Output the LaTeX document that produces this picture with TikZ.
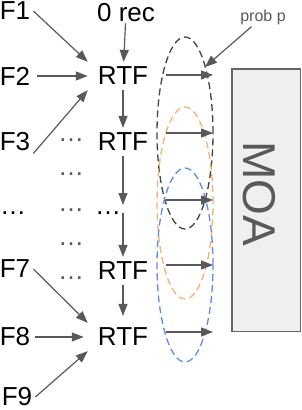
\documentclass[tikz,border=0pt]{standalone}
\usepackage{fontspec}
\setmainfont{Liberation Sans}
\usepackage{xcolor}
\usepackage{tikz}
\usetikzlibrary{arrows.meta,positioning}
\definecolor{arrowgray}{HTML}{595959}
\definecolor{ringdark}{HTML}{434343}
\definecolor{ringorange}{HTML}{F6B26B}
\definecolor{ringblue}{HTML}{5B8DEF}
\definecolor{boxfill}{HTML}{EFEFEF}
\definecolor{boxline}{HTML}{666666}

\begin{document}
\begin{tikzpicture}[x=1pt,y=-1pt,
    lbl/.style={font=\fontsize{26}{30}\selectfont,inner xsep=3pt,inner ysep=2pt},
    rtfbox/.style={lbl,inner xsep=10pt,inner ysep=5pt},
    gapdots/.style={font=\fontsize{26}{30}\selectfont,inner sep=0pt,anchor=base},
    flow/.style={-{Triangle[length=12pt,width=9pt]},arrowgray,line width=1.2pt},
    ring/.style={dash pattern=on 7pt off 4pt,line width=1.3pt}]
      \useasboundingbox (0,0) rectangle (302,410);
      % feature labels on the left
      \node[lbl] (f1) at (15,11) {F1};
      \node[lbl] (f2) at (15,76) {F2};
      \node[lbl] (f3) at (15,142) {F3};
      \node[gapdots] (ldots) at (13,214) {…};
      \node[lbl] (f7) at (15,269) {F7};
      \node[lbl] (f8) at (15,337) {F8};
      \node[lbl] (f9) at (17,397) {F9};
      % chain of trees
      \node[lbl,inner ysep=1pt] (rec) at (126,13) {0 rec};
      \node[rtfbox] (rtf1) at (123,76) {RTF};
      \node[rtfbox] (rtf2) at (123,142) {RTF};
      \node[gapdots] (rdots) at (108,214) {…};
      \node[rtfbox] (rtf3) at (123,271) {RTF};
      \node[rtfbox] (rtf4) at (123,337) {RTF};
      \coordinate (gapin) at (123,205);
      \coordinate (gapout) at (123,213);
      \foreach \y [count=\i] in {141,175,211,245,279}
        \node[gapdots,text=arrowgray] (mdots\i) at (71,\y) {…};
      % MOA box
      \node[draw=boxline,fill=boxfill,line width=1.5pt,minimum width=68.5pt,minimum height=262.5pt,inner sep=0pt] (moa) at (266,200) {};
      \node[rotate=-90,font=\fontsize{46}{50}\selectfont,text=arrowgray,inner sep=0pt] (moalabel) at (259,194) {MOA};
      % sampling rings
      \draw[ring,ringdark] (185,133) ellipse (28pt and 96pt);
      \draw[ring,ringorange] (185,203) ellipse (28pt and 96pt);
      \draw[ring,ringblue] (185,265) ellipse (28pt and 97pt);
      % inputs
      \draw[flow] (f1.east) -- (rtf1.north west);
      \draw[flow,shorten <=4pt] (f2) -- (rtf1);
      \draw[flow] (f3.south east) -- (rtf1.south west);
      \draw[flow] (rec) -- (rtf1);
      \draw[flow] (rtf1) -- (rtf2);
      \draw[flow] (rtf2) -- (gapin);
      \draw[flow] (gapout) -- (rtf3);
      \draw[flow,shorten >=7pt] (rtf3) -- (rtf4);
      \draw[flow] (f7.east) -- (rtf4.north west);
      \draw[flow,shorten <=2pt,shorten >=4pt] (f8) -- (rtf4);
      \draw[flow] (f9.east) -- (rtf4.south west);
      % outputs into the rings
      \foreach \y [count=\i] in {75,133,200,265,332} {
        \coordinate (o\i) at (166,\y);
        \coordinate (t\i) at (213,\y);
        \draw[flow] (o\i) -- (t\i);
      }
      % probability label
      \node[font=\fontsize{16}{19}\selectfont,text=arrowgray,inner sep=2pt] (prob) at (263,17) {prob p};
      \coordinate (pin) at (205,67);
      \draw[flow] (prob.220) -- (pin);
\end{tikzpicture}
\end{document}
